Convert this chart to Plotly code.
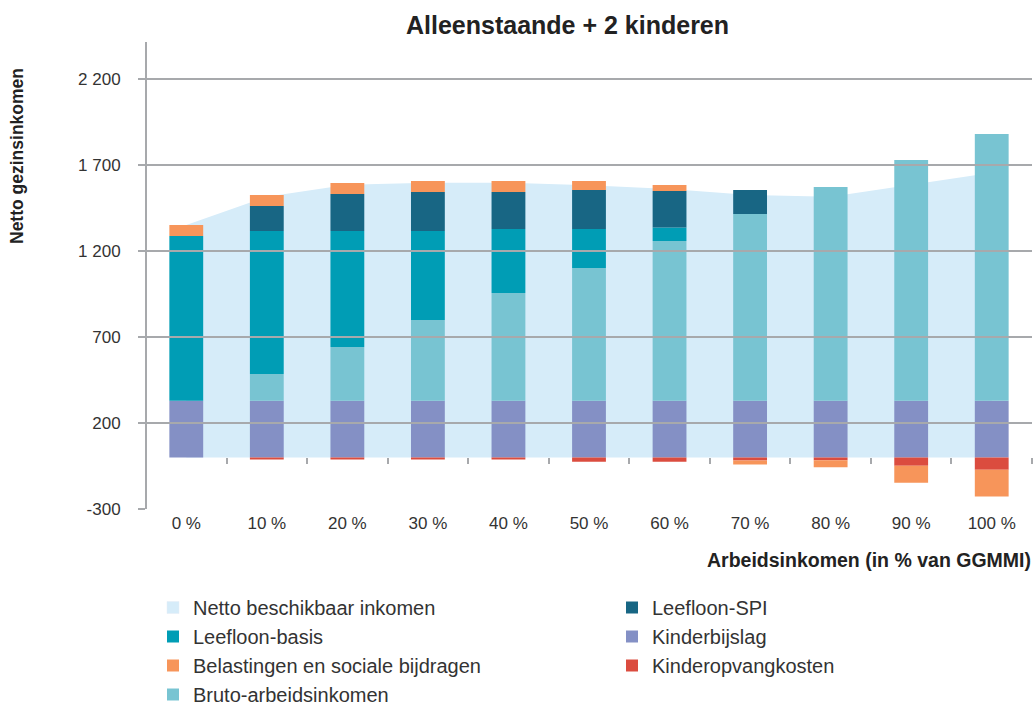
import plotly.graph_objects as go

categories = ["0 %", "10 %", "20 %", "30 %", "40 %", "50 %", "60 %", "70 %", "80 %", "90 %", "100 %"]

netto_beschikbaar = [1351, 1516, 1585, 1597, 1597, 1582, 1560, 1525, 1515, 1583, 1655]
kinderbijslag = [330, 330, 330, 330, 330, 330, 330, 330, 330, 330, 330]
bruto_arbeidsinkomen = [0, 155, 312, 469, 626, 771, 928, 1085, 1242, 1399, 1550]
leefloon_basis = [957, 831, 674, 517, 372, 227, 78, 0, 0, 0, 0]
leefloon_spi = [0, 146, 215, 227, 215, 227, 213, 140, 0, 0, 0]
belastingen = [64, 64, 64, 64, 64, 52, 35, -24, -42, -100, -155]
kinderopvang = [0, -12, -12, -12, -12, -25, -25, -18, -16, -48, -72]

y_tickvals = [-300, 200, 700, 1200, 1700, 2200]
y_ticktext = ["-300", "200", "700", "1 200", "1 700", "2 200"]
y_range = [-300, 2415]

C_NETTO = "#d6ecf9"
C_BASIS = "#009db5"
C_SPI = "#186684"
C_BEL = "#f7955a"
C_BRUTO = "#78c4d2"
C_KB = "#8490c5"
C_KO = "#db4c3f"
GRID = "#a7a9ac"
FONT = "Liberation Sans, Arial, Helvetica, sans-serif"

W, H = 1035, 707
ML, MR, MT, MB = 146, 3, 42, 198
PW, PH = W - ML - MR, H - MT - MB


def px_x(px):
    return (px - ML) / PW


def px_y(py):
    return (H - MB - py) / PH


fig = go.Figure()

# area (behind bars)
fig.add_trace(go.Scatter(
    x=categories, y=netto_beschikbaar, mode="lines", fill="tozeroy",
    fillcolor=C_NETTO, line=dict(width=0, color=C_NETTO),
    showlegend=False, hoverinfo="skip", zorder=0,
))

BAR_W = 0.42


def add_bar(name, values, color, legend, rank):
    fig.add_trace(go.Bar(
        x=categories, y=values, name=name, marker=dict(color=color, line=dict(width=0)),
        width=BAR_W, legend=legend, legendrank=rank, legendgroup=name, zorder=1,
    ))


add_bar("Kinderbijslag", kinderbijslag, C_KB, "legend2", 2)
add_bar("Kinderopvangkosten", kinderopvang, C_KO, "legend2", 3)
add_bar("Bruto-arbeidsinkomen", bruto_arbeidsinkomen, C_BRUTO, "legend", 4)
add_bar("Leefloon-basis", leefloon_basis, C_BASIS, "legend", 2)
add_bar("Leefloon-SPI", leefloon_spi, C_SPI, "legend2", 1)
add_bar("Belastingen en sociale bijdragen", belastingen, C_BEL, "legend", 3)

# legend entry for the area
fig.add_trace(go.Bar(
    x=[None], y=[None], name="Netto beschikbaar inkomen",
    marker=dict(color=C_NETTO), legend="legend", legendrank=1,
    legendgroup="Netto beschikbaar inkomen",
))

zero_pos = (0 - y_range[0]) / (y_range[1] - y_range[0])

# gridlines on top of bars
for v in y_tickvals[1:]:
    fig.add_shape(type="line", xref="paper", x0=0, x1=1, yref="y", y0=v, y1=v,
                  line=dict(color=GRID, width=2), layer="above")
# vertical axis line
fig.add_shape(type="line", xref="paper", x0=0, x1=0, yref="paper", y0=0, y1=1,
              line=dict(color=GRID, width=2), layer="above")

legend_common = dict(
    xanchor="left", yanchor="top",
    orientation="v", traceorder="grouped", tracegroupgap=0,
    font=dict(family=FONT, size=20, color="#333333"),
    bgcolor="rgba(0,0,0,0)", itemclick=False, itemdoubleclick=False,
)

fig.update_layout(
    width=W, height=H,
    margin=dict(l=ML, r=MR, t=MT, b=MB, autoexpand=False),
    paper_bgcolor="white", plot_bgcolor="white",
    barmode="relative",
    font=dict(family=FONT, size=17, color="#333333"),
    xaxis=dict(
        type="category", range=[-0.5, 10.5], anchor="free", position=zero_pos,
        showline=True, linecolor=GRID, linewidth=2,
        ticks="outside", tickson="boundaries", ticklen=6, tickcolor=GRID, tickwidth=2,
        showgrid=False, ticklabelstandoff=50, tickangle=0,
        tickfont=dict(family=FONT, size=17, color="#333333"),
    ),
    yaxis=dict(
        range=y_range, tickvals=y_tickvals, ticktext=y_ticktext,
        anchor="free", position=0,
        showgrid=False, zeroline=False,
        showline=True, linecolor=GRID, linewidth=2,
        ticks="outside", ticklen=7, tickcolor=GRID, tickwidth=2,
        ticklabelstandoff=14,
        tickfont=dict(family=FONT, size=17, color="#333333"),
    ),
    legend=dict(x=px_x(153), y=px_y(588), **legend_common),
    legend2=dict(x=px_x(612), y=px_y(588), **legend_common),
    annotations=[
        dict(text="<b>Alleenstaande + 2 kinderen</b>", xref="paper", yref="paper",
             x=px_x(567), y=px_y(25), xanchor="center", yanchor="middle",
             showarrow=False, font=dict(family=FONT, size=25, color="#222222")),
        dict(text="<b>Netto gezinsinkomen</b>", xref="paper", yref="paper",
             x=px_x(17), y=px_y(156), xanchor="center", yanchor="middle",
             textangle=-90, showarrow=False,
             font=dict(family=FONT, size=17.5, color="#222222")),
        dict(text="<b>Arbeidsinkomen (in % van GGMMI)</b>", xref="paper", yref="paper",
             x=px_x(1033), y=px_y(560), xanchor="right", yanchor="middle",
             showarrow=False, font=dict(family=FONT, size=19.5, color="#222222")),
    ],
)

fig.write_html(
    "out.html",
    config={"displayModeBar": False},
    post_script="document.body.style.margin='0';document.body.style.overflow='hidden';",
)
